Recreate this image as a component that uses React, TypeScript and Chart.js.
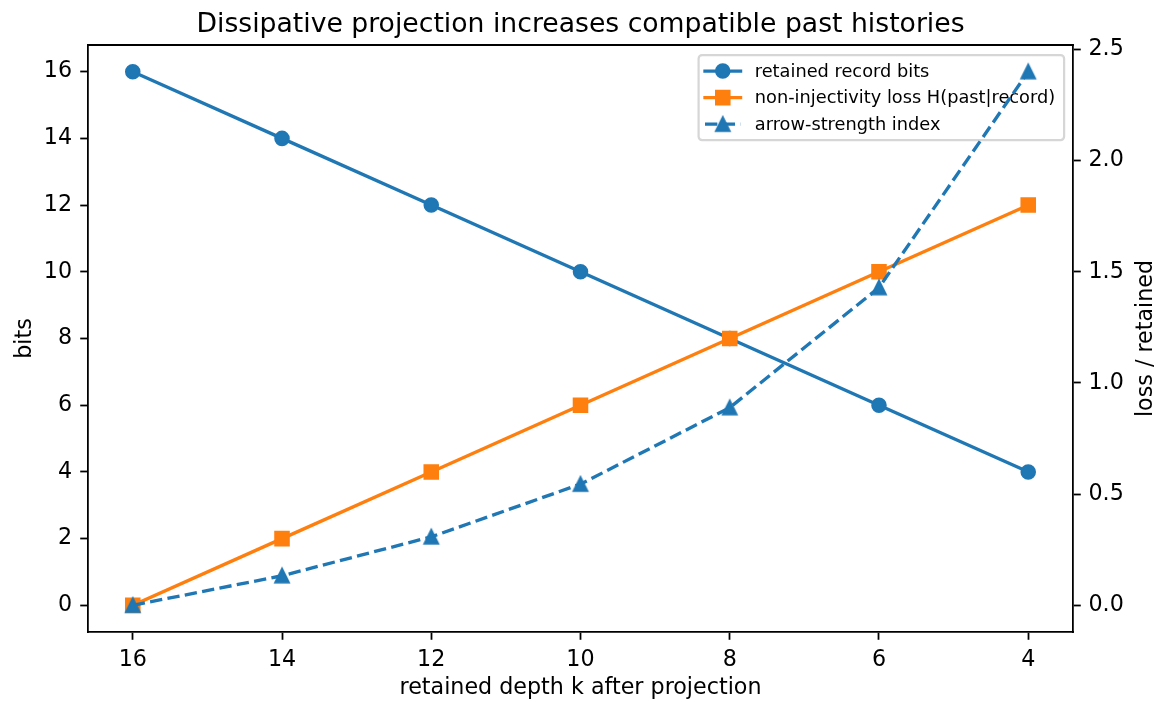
import React, { useEffect, useRef } from 'react';
import { Chart, registerables } from 'chart.js';

Chart.register(...registerables);

// ---- data ----
const depthK = [16, 14, 12, 10, 8, 6, 4];
const retainedBits = [16, 14, 12, 10, 8, 6, 4];
const lossBits = [0, 2, 4, 6, 8, 10, 12];
const arrowStrength = [0, 0.133, 0.308, 0.545, 0.889, 1.429, 2.4];
const xTickValues = [16, 14, 12, 10, 8, 6, 4];
const leftTickValues = [0, 2, 4, 6, 8, 10, 12, 14, 16];
const rightTickValues = [0, 0.5, 1, 1.5, 2, 2.5];
const seriesLabels = [
  'retained record bits',
  'non-injectivity loss H(past|record)',
  'arrow-strength index',
];
const titleText = 'Dissipative projection increases compatible past histories';
const xTitle = 'retained depth k after projection';
const yLeftTitle = 'bits';
const yRightTitle = 'loss / retained';

// ---- style ----
const BLUE = '#1f77b4';
const ORANGE = '#ff7f0e';
const FONT = "'DejaVu Sans', sans-serif";
const S = 160 / 72; // px per pt
const W = 1161;
const H = 702;

function makeTriangle(color: string): HTMLCanvasElement {
  const c = document.createElement('canvas');
  c.width = 24;
  c.height = 24;
  const g = c.getContext('2d')!;
  const h = 3 * S;
  g.beginPath();
  g.moveTo(12, 12 - h);
  g.lineTo(12 - h, 12 + h);
  g.lineTo(12 + h, 12 + h);
  g.closePath();
  g.fillStyle = color;
  g.fill();
  g.lineWidth = S;
  g.lineJoin = 'miter';
  g.strokeStyle = color;
  g.stroke();
  return c;
}

export default function App() {
  const ref = useRef<HTMLCanvasElement | null>(null);

  useEffect(() => {
    if (!ref.current) return;
    const tri = makeTriangle(BLUE);

    const overlay = {
      id: 'mplOverlay',
      beforeDatasetsDraw(chart: any) {
        // legend (belongs to first axes; second axes line is drawn above it)
        const ctx = chart.ctx as CanvasRenderingContext2D;
        const a = chart.chartArea;
        const fs = 8 * S;
        ctx.save();
        ctx.font = `${fs}px ${FONT}`;
        const textW = Math.max(...seriesLabels.map((l) => ctx.measureText(l).width));
        const boxRight = a.right - 0.5 * fs;
        const boxTop = a.top + 0.5 * fs + 1.2;
        const boxW = 56.2 + textW + 8.9;
        const boxLeft = boxRight - boxW;
        const rowH = fs * 0.995;
        const boxH = 0.8 * fs + 3 * rowH + 2 * 0.5 * fs;
        ctx.beginPath();
        (ctx as any).roundRect(boxLeft, boxTop, boxW, boxH, 0.2 * fs);
        ctx.fillStyle = 'rgba(255,255,255,0.8)';
        ctx.fill();
        ctx.lineWidth = S;
        ctx.strokeStyle = 'rgba(204,204,204,0.8)';
        ctx.stroke();

        const hx0 = boxLeft + 6.4;
        const hx1 = hx0 + 2 * fs;
        const hc = (hx0 + hx1) / 2;
        const tx = hx1 + 0.8 * fs;
        const colors = [BLUE, ORANGE, BLUE];
        for (let i = 0; i < 3; i++) {
          const cy = boxTop + 0.4 * fs + rowH / 2 + i * (rowH + 0.5 * fs);
          ctx.strokeStyle = colors[i];
          ctx.fillStyle = colors[i];
          ctx.lineWidth = 1.5 * S;
          ctx.beginPath();
          if (i === 2) {
            ctx.setLineDash([3.7 * 1.5 * S, 1.6 * 1.5 * S]);
            ctx.lineCap = 'butt';
          } else {
            ctx.setLineDash([]);
            ctx.lineCap = 'square';
          }
          ctx.moveTo(hx0, cy);
          ctx.lineTo(hx1, cy);
          ctx.stroke();
          ctx.setLineDash([]);
          ctx.lineWidth = S;
          ctx.lineJoin = 'miter';
          if (i === 0) {
            ctx.beginPath();
            ctx.arc(hc, cy, 3 * S, 0, Math.PI * 2);
            ctx.fill();
            ctx.stroke();
          } else if (i === 1) {
            ctx.beginPath();
            ctx.rect(hc - 3 * S, cy - 3 * S, 6 * S, 6 * S);
            ctx.fill();
            ctx.stroke();
          } else {
            ctx.drawImage(tri, hc - 12, cy - 12);
          }
          ctx.fillStyle = '#000';
          ctx.textBaseline = 'alphabetic';
          ctx.textAlign = 'left';
          ctx.fillText(seriesLabels[i], tx, cy + 0.33 * fs);
        }
        ctx.restore();
      },
      afterDraw(chart: any) {
        const ctx = chart.ctx as CanvasRenderingContext2D;
        const a = chart.chartArea;
        ctx.save();
        // top spine
        ctx.strokeStyle = '#000';
        ctx.lineWidth = 0.8 * S;
        ctx.beginPath();
        ctx.moveTo(a.left - 0.4 * S, a.top);
        ctx.lineTo(a.right + 0.4 * S, a.top);
        ctx.stroke();
        // right axis label (reads bottom-to-top)
        ctx.translate(a.right + 78.7, (a.top + a.bottom) / 2);
        ctx.rotate(-Math.PI / 2);
        ctx.font = `${10 * S}px ${FONT}`;
        ctx.fillStyle = '#000';
        ctx.textAlign = 'center';
        ctx.textBaseline = 'alphabetic';
        ctx.fillText(yRightTitle, 0, 0);
        ctx.restore();
      },
    };

    const tickFont = { family: FONT, size: 10 * S };
    const gridOpts = {
      display: true,
      drawOnChartArea: false,
      drawTicks: true,
      tickLength: 3.5 * S,
      tickWidth: 0.8 * S,
      tickColor: '#000',
    };
    const borderOpts = { display: true, color: '#000', width: 0.8 * S };

    const chart = new Chart(ref.current, {
      type: 'line',
      data: {
        datasets: [
          {
            label: seriesLabels[0],
            data: depthK.map((x, i) => ({ x, y: retainedBits[i] })),
            xAxisID: 'x',
            yAxisID: 'y',
            borderColor: BLUE,
            backgroundColor: BLUE,
            borderWidth: 1.5 * S,
            borderJoinStyle: 'round',
            borderCapStyle: 'square',
            pointStyle: 'circle',
            pointRadius: 3 * S,
            pointBorderWidth: S,
            pointBackgroundColor: BLUE,
            pointBorderColor: BLUE,
            tension: 0,
            order: 3,
          },
          {
            label: seriesLabels[1],
            data: depthK.map((x, i) => ({ x, y: lossBits[i] })),
            xAxisID: 'x',
            yAxisID: 'y',
            borderColor: ORANGE,
            backgroundColor: ORANGE,
            borderWidth: 1.5 * S,
            borderJoinStyle: 'round',
            borderCapStyle: 'square',
            pointStyle: 'rect',
            pointRadius: (3 * S) / Math.SQRT1_2,
            pointBorderWidth: S,
            pointBackgroundColor: ORANGE,
            pointBorderColor: ORANGE,
            tension: 0,
            order: 2,
          },
          {
            label: seriesLabels[2],
            data: depthK.map((x, i) => ({ x, y: arrowStrength[i] })),
            xAxisID: 'x',
            yAxisID: 'y1',
            borderColor: BLUE,
            backgroundColor: BLUE,
            borderWidth: 1.5 * S,
            borderDash: [3.7 * 1.5 * S, 1.6 * 1.5 * S],
            borderJoinStyle: 'round',
            borderCapStyle: 'butt',
            pointStyle: tri,
            pointRadius: 3 * S,
            tension: 0,
            order: 1,
          },
        ] as any,
      },
      options: {
        responsive: false,
        maintainAspectRatio: false,
        devicePixelRatio: 1,
        animation: false,
        layout: { padding: 0 },
        plugins: {
          legend: { display: false },
          tooltip: { enabled: false },
          title: {
            display: true,
            text: titleText,
            color: '#000',
            font: { family: FONT, size: 12 * S, weight: 'normal', lineHeight: 1.2 },
            padding: { top: 8.8, bottom: 4.2 },
          },
        },
        scales: {
          x: {
            type: 'linear',
            position: 'bottom',
            min: 3.4,
            max: 16.6,
            reverse: true,
            afterBuildTicks: (s: any) => {
              s.ticks = xTickValues.map((v) => ({ value: v }));
            },
            afterFit: (s: any) => {
              s.height = 70;
            },
            ticks: {
              color: '#000',
              font: tickFont,
              padding: 7,
              maxRotation: 0,
              autoSkip: false,
              callback: (v: any) => String(v),
            },
            grid: gridOpts,
            border: borderOpts,
            title: {
              display: true,
              text: xTitle,
              color: '#000',
              font: { family: FONT, size: 10 * S },
              padding: { top: 0, bottom: 0.4 },
            },
          },
          y: {
            type: 'linear',
            position: 'left',
            min: -0.8,
            max: 16.8,
            afterBuildTicks: (s: any) => {
              s.ticks = leftTickValues.map((v) => ({ value: v }));
            },
            afterFit: (s: any) => {
              s.width = 88;
            },
            ticks: {
              color: '#000',
              font: tickFont,
              padding: 8.1,
              autoSkip: false,
              callback: (v: any) => String(v),
            },
            grid: gridOpts,
            border: borderOpts,
            title: {
              display: true,
              text: yLeftTitle,
              color: '#000',
              font: { family: FONT, size: 10 * S },
              padding: { top: 11.7, bottom: 0 },
            },
          },
          y1: {
            type: 'linear',
            position: 'right',
            min: -0.12,
            max: 2.52,
            afterBuildTicks: (s: any) => {
              s.ticks = rightTickValues.map((v) => ({ value: v }));
            },
            afterFit: (s: any) => {
              s.width = 88;
            },
            ticks: {
              color: '#000',
              font: tickFont,
              padding: 7.7,
              autoSkip: false,
              callback: (v: any) => Number(v).toFixed(1),
            },
            grid: gridOpts,
            border: borderOpts,
            title: { display: false },
          },
        },
      } as any,
      plugins: [overlay],
    });

    return () => {
      chart.destroy();
    };
  }, []);

  return (
    <div style={{ position: 'absolute', left: 0, top: 0, width: W, height: H, background: '#fff' }}>
      <canvas ref={ref} width={W} height={H} style={{ width: W, height: H, display: 'block' }} />
    </div>
  );
}
